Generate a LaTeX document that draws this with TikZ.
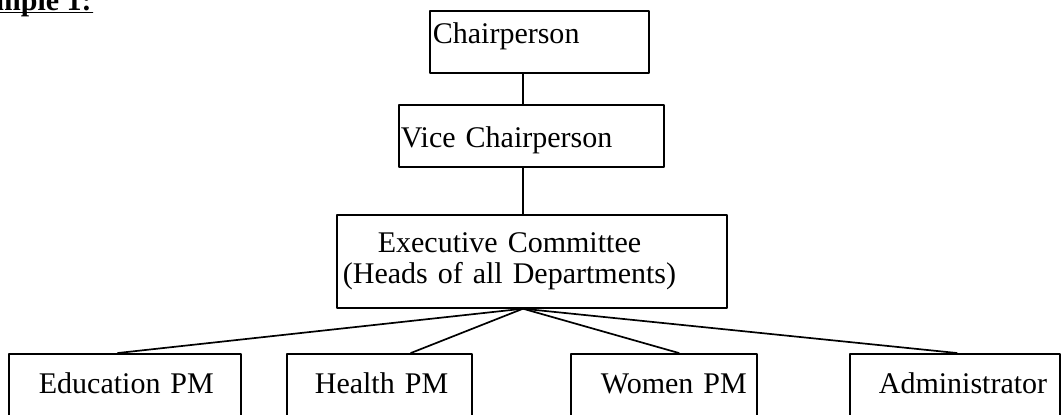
\documentclass[tikz,border=0pt]{standalone}
\usepackage{fontspec}
\setmainfont{Liberation Serif}
\begin{document}
\begin{tikzpicture}[line cap=round, line join=round, line width=0.85pt, x=0.5pt, y=-0.5pt, font=\fontsize{15}{15.5}\selectfont]
	\tikzset{box style/.style={draw, anchor=north west, inner sep=0pt, align=left}}
	\tikzset{unit style/.style={box style, text height=20pt, text depth=23.5pt}}
	\useasboundingbox (0,0) rectangle (1063,414);
	\clip (0,0) rectangle (1063,414);
	\node (title) at (-55,10)[anchor=base west, inner xsep=0pt, font=\fontsize{15}{15.5}\selectfont\bfseries]{Example 1:};
	\draw ([yshift=-1.3pt]title.base west)--([yshift=-1.3pt]title.base east);
	\coordinate (spine) at (523,0);
	\node (chair) at (429,10)[box style, text width=109.5pt, text height=16.5pt, text depth=14.5pt]{\hspace*{1.5pt}Chairperson};
	\node (vice) at (398,104)[box style, text width=132.5pt, text height=21.5pt, text depth=9.5pt]{\hspace*{1pt}Vice Chairperson};
	\node (exec) at (336,214)[box style, text width=195pt, minimum height=46.5pt]{\hspace*{3pt}\begin{tabular}{@{}c@{}}Executive Committee\\(Heads of all Departments)\end{tabular}};
	\node (edu) at (8,353)[unit style, text width=116pt]{\hspace*{15pt}Education PM};
	\node (health) at (286,353)[unit style, text width=92.5pt]{\hspace*{14pt}Health PM};
	\node (women) at (570,353)[unit style, text width=93pt]{\hspace*{15pt}Women PM};
	\node (admin) at (849,353)[unit style, text width=105pt]{\hspace*{14.5pt}Administrator};
	\draw (chair.south -| spine)--(vice.north -| spine);
	\draw (vice.south -| spine)--(exec.north -| spine);
	\foreach \unit/\shift in {edu/-3.5pt, health/15.75pt, women/7.5pt, admin/1pt}
		\draw (exec.south -| spine)--([xshift=\shift]\unit.north);
\end{tikzpicture}
\end{document}
